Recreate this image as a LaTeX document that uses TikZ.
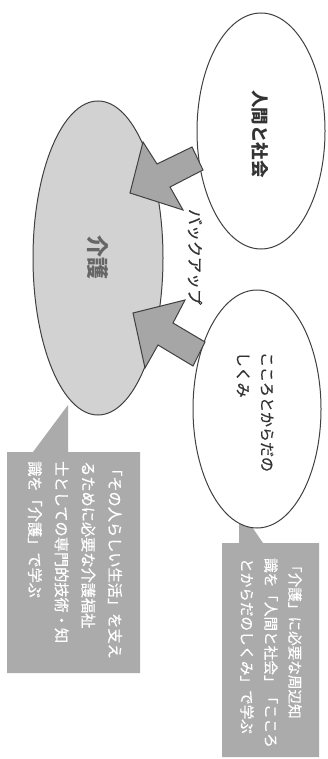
\documentclass[tikz,border=0pt]{standalone}
\usepackage{fontspec}
\newfontfamily\jp{Noto Sans CJK JP}
\newfontfamily\jpm[FakeBold=0.6]{Noto Sans CJK JP}
\definecolor{lineg}{HTML}{404040}
\definecolor{ellg}{HTML}{D2D2D2}
\definecolor{arrg}{HTML}{A6A6A6}
\definecolor{callg}{HTML}{ABABAB}
\definecolor{txtg}{HTML}{333333}
\begin{document}
\begin{tikzpicture}[x=1pt,y=-1pt,
  ell/.style={draw=lineg, line width=1pt},
  blockarrow/.style={fill=arrg, draw=lineg, line width=1pt, line join=miter},
  callout/.style={fill=callg},
  vt/.style={rotate=-90, inner sep=0pt, text=txtg},
  ct/.style={rotate=-90, inner sep=0pt, text=white, align=left}]
\useasboundingbox (0,0) rectangle (328,759);
\fill[white] (0,0) rectangle (328,759);
% callouts
\fill[callout] (7,452) -- (33,452) -- (68,405) -- (68,452) -- (140,452) -- (140,673) -- (7,673) -- cycle;
\fill[callout] (222,543) -- (239,543) -- (239,508) -- (263,543) -- (319,543) -- (319,757) -- (222,757) -- cycle;
% ellipses
\draw[ell, fill=white] (261,131) ellipse [x radius=64, y radius=118];
\draw[ell, fill=ellg] (98,258) ellipse [x radius=65, y radius=157];
\draw[ell, fill=white] (257,409) ellipse [x radius=64, y radius=119];
% block arrows
\filldraw[blockarrow] (130,193) -- (143,142) -- (157,164) -- (192,147) -- (203,170) -- (170,187) -- (183,210) -- cycle;
\filldraw[blockarrow] (133,313) -- (185,300) -- (173,323) -- (205,342) -- (193,366) -- (158,345) -- (145,368) -- cycle;
% texts
\node[vt, font=\jp\bfseries\fontsize{17.5}{20}\selectfont] (ningen) at (260,134) {人間と社会};
\node[vt, text=black!60, font=\jp\bfseries\fontsize{22}{24}\selectfont] (kaigo) at (98,257) {介護};
\node[vt, font=\jpm\fontsize{16}{18}\selectfont] (backup) at (195,257) {バックアップ};
\node[vt, align=left, font=\jpm\fontsize{15}{24}\selectfont] (kokoro) at (255,412) {こころとからだの\\しくみ};
\node[ct, font=\jpm\fontsize{15.2}{26.7}\selectfont] (left) at (75,560) {「その人らしい生活」を支え\\るために必要な介護福祉\\士としての専門的技術・知\\識を「介護」で学ぶ};
\node[ct, font=\jpm\fontsize{14.6}{24}\selectfont] (right) at (271,653) {「介護」に必要な周辺知\\識を「人間と社会」「こころ\\とからだのしくみ」で学ぶ};
\end{tikzpicture}
\end{document}
